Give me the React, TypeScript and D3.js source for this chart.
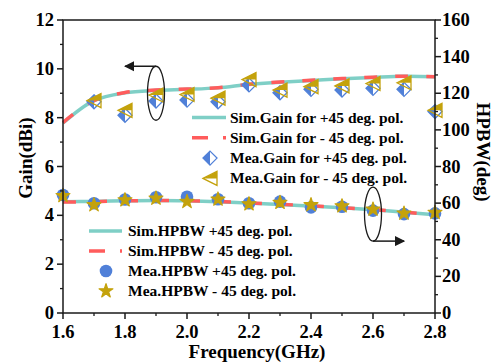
import * as d3 from 'd3';

const freq = [1.6, 1.7, 1.8, 1.9, 2.0, 2.1, 2.2, 2.3, 2.4, 2.5, 2.6, 2.7, 2.8];
const meaGainFreq = [1.7, 1.8, 1.9, 2.0, 2.1, 2.2, 2.3, 2.4, 2.5, 2.6, 2.7, 2.8];

const simGainP45 = [7.78, 8.7, 9.02, 9.12, 9.16, 9.22, 9.36, 9.45, 9.52, 9.59, 9.65, 9.7, 9.68];
const simGainM45 = [7.8, 8.7, 9.03, 9.13, 9.17, 9.23, 9.37, 9.46, 9.53, 9.6, 9.66, 9.7, 9.68];
const meaGainP45 = [8.65, 8.1, 8.68, 8.72, 8.65, 9.34, 9.02, 9.16, 9.13, 9.2, 9.16, 8.25];
const meaGainM45 = [8.7, 8.3, 8.93, 8.95, 8.8, 9.56, 9.13, 9.27, 9.3, 9.4, 9.43, 8.3];

const simHpbwP45 = [60.8, 60.9, 61.3, 61.5, 61.3, 60.8, 60.0, 59.3, 58.4, 57.5, 56.4, 55.0, 53.6];
const simHpbwM45 = [60.6, 60.8, 61.2, 61.4, 61.3, 60.9, 60.1, 59.4, 58.5, 57.5, 56.5, 55.1, 53.7];
const meaHpbwP45 = [64.4, 59.9, 62.0, 63.2, 63.5, 62.1, 59.9, 60.8, 57.7, 58.0, 55.9, 54.0, 54.4];
const meaHpbwM45 = [64.0, 59.0, 61.7, 62.6, 60.8, 62.1, 59.5, 60.3, 59.0, 58.4, 56.6, 54.4, 54.8];

const xTicks = [1.6, 1.8, 2.0, 2.2, 2.4, 2.6, 2.8];
const gainTicks = [0, 2, 4, 6, 8, 10, 12];
const hpbwTicks = [0, 20, 40, 60, 80, 100, 120, 140, 160];

const gainLegend = [
  'Sim.Gain for +45 deg. pol.',
  'Sim.Gain for - 45 deg. pol.',
  'Mea.Gain for +45 deg. pol.',
  'Mea.Gain for - 45 deg. pol.',
];
const hpbwLegend = [
  'Sim.HPBW +45 deg. pol.',
  'Sim.HPBW - 45 deg. pol.',
  'Mea.HPBW +45 deg. pol.',
  'Mea.HPBW - 45 deg. pol.',
];

const W = 499;
const H = 363;
const m = { left: 63, right: 435, top: 20, bottom: 313 };
const TEAL = '#7fcfc6';
const RED = '#ff5c5c';
const BLUE = '#5080d8';
const GOLD = '#c4a20c';
const INK = '#1a1a1a';
const FONT = 'Liberation Serif, DejaVu Serif, serif';

const x = d3.scaleLinear().domain([1.6, 2.8]).range([m.left, m.right]);
const yG = d3.scaleLinear().domain([0, 12]).range([m.bottom, m.top]);
const yH = d3.scaleLinear().domain([0, 160]).range([m.bottom, m.top]);

const curve = d3.curveCatmullRom;
const gainLine = d3.line<number>().x((_, i) => x(freq[i])).y((d) => yG(d)).curve(curve);
const hpbwLine = d3.line<number>().x((_, i) => x(freq[i])).y((d) => yH(d)).curve(curve);

function Diamond({ cx, cy }: { cx: number; cy: number }) {
  const s = 7;
  return (
    <g transform={`translate(${cx},${cy})`}>
      <path d={`M0,${-s}L${-s},0L0,${s}Z`} fill={BLUE} />
      <path d={`M0,${-s}L${s},0L0,${s}L${-s},0Z`} fill="none" stroke={BLUE} strokeWidth={1.3} />
    </g>
  );
}

function Tri({ cx, cy }: { cx: number; cy: number }) {
  const s = 7;
  return (
    <g transform={`translate(${cx},${cy})`}>
      <path d={`M${-s},0L${s},${-s}L${s},0Z`} fill={GOLD} />
      <path d={`M${-s},0L${s},${-s}L${s},${s}Z`} fill="none" stroke={GOLD} strokeWidth={1.3} />
    </g>
  );
}

const starPath = d3.symbol(d3.symbolStar, 60)() as string;

function Star({ cx, cy }: { cx: number; cy: number }) {
  return (
    <path transform={`translate(${cx},${cy})`} d={starPath} fill={GOLD} stroke={GOLD} strokeWidth={1.2} strokeLinejoin="round" />
  );
}

function Dot({ cx, cy }: { cx: number; cy: number }) {
  return <circle cx={cx} cy={cy} r={6.3} fill={BLUE} />;
}

export default function App() {
  const minorX = d3.range(1.7, 2.8, 0.2);
  const minorG = d3.range(1, 12, 2);
  const minorH = d3.range(10, 160, 20);

  return (
    <svg
      width={W}
      height={H}
      fontFamily={FONT}
      fontWeight="bold"
      style={{ position: 'absolute', left: 0, top: 0, background: '#fff' }}
    >
      {/* simulated lines */}
      <path d={gainLine(simGainP45) ?? ''} fill="none" stroke={TEAL} strokeWidth={3.5} />
      <path d={gainLine(simGainM45) ?? ''} fill="none" stroke={RED} strokeWidth={3.5} strokeDasharray="13,18" />
      <path d={hpbwLine(simHpbwP45) ?? ''} fill="none" stroke={TEAL} strokeWidth={3.5} />
      <path d={hpbwLine(simHpbwM45) ?? ''} fill="none" stroke={RED} strokeWidth={3.5} strokeDasharray="13,18" />

      {/* measured markers */}
      {meaGainP45.map((v, i) => (
        <Diamond key={'d' + i} cx={x(meaGainFreq[i])} cy={yG(v)} />
      ))}
      {meaGainM45.map((v, i) => (
        <Tri key={'t' + i} cx={x(meaGainFreq[i])} cy={yG(v)} />
      ))}
      {meaHpbwP45.map((v, i) => (
        <Dot key={'c' + i} cx={x(freq[i])} cy={yH(v)} />
      ))}
      {meaHpbwM45.map((v, i) => (
        <Star key={'s' + i} cx={x(freq[i])} cy={yH(v)} />
      ))}

      {/* frame */}
      <rect x={m.left} y={m.top} width={m.right - m.left} height={m.bottom - m.top} fill="none" stroke={INK} strokeWidth={1.5} />

      {/* bottom axis */}
      {xTicks.map((t) => (
        <g key={'xt' + t}>
          <line x1={x(t)} x2={x(t)} y1={m.bottom} y2={m.bottom + 6} stroke={INK} strokeWidth={1.5} />
          <text x={x(t)} y={m.bottom + 25} textAnchor="middle" fontSize={18.5}>
            {t.toFixed(1)}
          </text>
        </g>
      ))}
      {minorX.map((t) => (
        <line key={'xm' + t} x1={x(t)} x2={x(t)} y1={m.bottom} y2={m.bottom + 3} stroke={INK} strokeWidth={1.3} />
      ))}

      {/* left axis */}
      {gainTicks.map((t) => (
        <g key={'gt' + t}>
          <line x1={m.left - 6} x2={m.left} y1={yG(t)} y2={yG(t)} stroke={INK} strokeWidth={1.5} />
          <text x={m.left - 9} y={yG(t) + 6} textAnchor="end" fontSize={18.5}>
            {t}
          </text>
        </g>
      ))}
      {minorG.map((t) => (
        <line key={'gm' + t} x1={m.left - 3} x2={m.left} y1={yG(t)} y2={yG(t)} stroke={INK} strokeWidth={1.3} />
      ))}

      {/* right axis */}
      {hpbwTicks.map((t) => (
        <g key={'ht' + t}>
          <line x1={m.right} x2={m.right + 6} y1={yH(t)} y2={yH(t)} stroke={INK} strokeWidth={1.5} />
          <text x={m.right + 7} y={yH(t) + 6} textAnchor="start" fontSize={18.5}>
            {t}
          </text>
        </g>
      ))}
      {minorH.map((t) => (
        <line key={'hm' + t} x1={m.right} x2={m.right + 3} y1={yH(t)} y2={yH(t)} stroke={INK} strokeWidth={1.3} />
      ))}

      {/* axis titles */}
      <text x={257} y={358} textAnchor="middle" fontSize={19}>
        Frequency(GHz)
      </text>
      <text transform="translate(32,158) rotate(-90)" textAnchor="middle" fontSize={19}>
        Gain(dBi)
      </text>
      <text transform="translate(477,152) rotate(90)" textAnchor="middle" fontSize={19}>
        HPBW(deg)
      </text>

      {/* gain legend */}
      {gainLegend.map((label, i) => {
        const cy = 117.5 + i * 20.3;
        return (
          <g key={'gl' + i}>
            {i === 0 && <line x1={192} x2={226} y1={cy} y2={cy} stroke={TEAL} strokeWidth={3.5} />}
            {i === 1 && (
              <line x1={192} x2={226} y1={cy} y2={cy} stroke={RED} strokeWidth={3.5} strokeDasharray="16,15" />
            )}
            {i === 2 && <Diamond cx={210} cy={cy} />}
            {i === 3 && <Tri cx={210} cy={cy} />}
            <text x={230} y={cy + 5} fontSize={15.5}>
              {label}
            </text>
          </g>
        );
      })}

      {/* hpbw legend */}
      {hpbwLegend.map((label, i) => {
        const cy = 231 + i * 20;
        return (
          <g key={'hl' + i}>
            {i === 0 && <line x1={89} x2={122} y1={cy} y2={cy} stroke={TEAL} strokeWidth={3.5} />}
            {i === 1 && (
              <line x1={89} x2={122} y1={cy} y2={cy} stroke={RED} strokeWidth={3.5} strokeDasharray="16,15" />
            )}
            {i === 2 && <Dot cx={106} cy={cy} />}
            {i === 3 && <Star cx={106} cy={cy} />}
            <text x={128} y={cy + 5} fontSize={15.5}>
              {label}
            </text>
          </g>
        );
      })}

      {/* annotation ellipses and arrows */}
      <defs>
        <marker id="ah" viewBox="0 0 10 10" refX="9" refY="5" markerWidth="7" markerHeight="7" orient="auto-start-reverse">
          <path d="M0,0L10,5L0,10Z" fill={INK} />
        </marker>
      </defs>
      <ellipse cx={x(1.9)} cy={yG(9.0)} rx={8.5} ry={27} fill="none" stroke={INK} strokeWidth={1.3} />
      <line x1={x(1.9)} x2={x(1.8)} y1={yG(9.0) - 27} y2={yG(9.0) - 27} stroke={INK} strokeWidth={1.5} markerEnd="url(#ah)" />
      <ellipse cx={x(2.6)} cy={yH(54)} rx={8.5} ry={27} fill="none" stroke={INK} strokeWidth={1.3} />
      <line x1={x(2.6)} x2={x(2.7)} y1={yH(54) + 27} y2={yH(54) + 27} stroke={INK} strokeWidth={1.5} markerEnd="url(#ah)" />
    </svg>
  );
}
